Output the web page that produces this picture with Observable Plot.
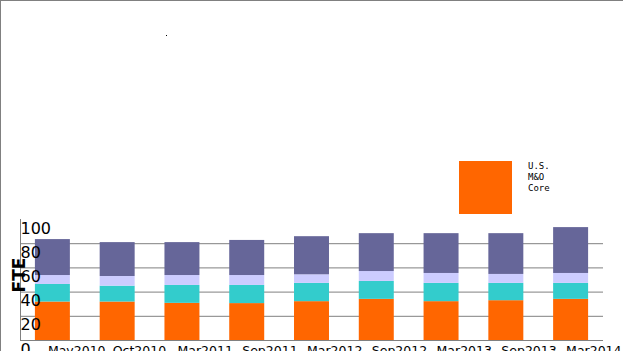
<!DOCTYPE html>
<html><head><meta charset="utf-8">
<script src="https://cdn.jsdelivr.net/npm/d3@7"></script>
<script src="https://cdn.jsdelivr.net/npm/@observablehq/plot@0.6"></script>
<style>
body{margin:0;background:#fff;}
#wrap{position:relative;width:623px;height:351px;overflow:hidden;font-family:"DejaVu Sans";background:#fff;}
#chart svg{position:absolute;left:0;top:0;}
.bt{position:absolute;left:0;top:0;width:623px;height:1px;background:#808080;}
.bl{position:absolute;left:0;top:0;width:1px;height:351px;background:#808080;}
#legend{position:absolute;left:459px;top:161px;}
.sw{position:absolute;left:0;top:0;width:53px;height:53px;background:#ff6600;}
.lt{position:absolute;left:69px;top:0px;font:9px "DejaVu Sans Mono";line-height:11px;white-space:pre;color:#000;}
.dot{position:absolute;left:166px;top:35px;width:1px;height:1px;background:#000;}
</style>
</head><body>
<div id="wrap"><div id="chart"></div>
<div id="legend"><div class="sw"></div><div class="lt" id="legtext"></div></div>
<div class="dot"></div>
<div class="bt"></div><div class="bl"></div></div>
<script>
const periods = ["May2010","Oct2010","Mar2011","Sep2011","Mar2012","Sep2012","Mar2013","Sep2013","Mar2014"];
const seriesNames = ["U.S. M&O Core","U.S. Base","Europe","Other"];
const seriesColors = ["#ff6600","#33cccc","#ccccff","#666699"];
const coreFTE     = [31.8, 31.8, 30.7, 30.5, 32.1, 34.0, 32.1, 32.9, 34.0];
const baseFTE     = [14.5, 13.1, 14.8, 15.0, 15.1, 14.8, 15.1, 14.3, 13.2];
const europeFTE   = [7.4, 8.0, 8.2, 8.2, 7.1, 8.2, 8.2, 7.4, 8.2];
const otherFTE    = [29.7, 28.0, 27.2, 29.0, 31.5, 31.3, 32.9, 33.7, 37.9];
const yTicks = [0, 20, 40, 60, 80, 100];
const gridTicks = [20, 40, 60, 80];
const yLabel = "FTE";

const seriesValues = [coreFTE, baseFTE, europeFTE, otherFTE];
const rows = [];
seriesNames.forEach((s, i) => periods.forEach((p, j) => rows.push({period: p, series: s, value: seriesValues[i][j]})));

const chart = Plot.plot({
  width: 623, height: 351,
  marginLeft: 20, marginRight: 20, marginTop: 219, marginBottom: 11,
  style: {fontFamily: "DejaVu Sans", background: "transparent", overflow: "visible"},
  x: {domain: periods, paddingInner: 0.46, paddingOuter: 0.23, round: false, label: null},
  y: {domain: [0, 100], label: null},
  color: {domain: seriesNames, range: seriesColors},
  marks: [
    Plot.gridY(gridTicks, {stroke: "#808080", strokeOpacity: 1, strokeWidth: 1}),
    Plot.barY(rows, {x: "period", y: "value", fill: "series"}),
    Plot.ruleY([0], {stroke: "#808080"}),
    Plot.frame({anchor: "left", stroke: "#808080"}),
    Plot.axisY(yTicks, {tickSize: 0, textAnchor: "start", dx: 9, dy: 9, fontSize: 16, fill: "#000", label: null}),
    Plot.axisX({tickSize: 0, textAnchor: "start", dx: -5, dy: -3, fontSize: 12.5, fill: "#000", label: null}),
    Plot.text([yLabel], {frameAnchor: "left", text: d => d, rotate: -90, textAnchor: "middle", dx: -1, dy: -5, fontSize: 17, fontWeight: "bold", fill: "#000"})
  ]
});
document.getElementById("chart").appendChild(chart);
document.getElementById("legtext").textContent = "U.S.\nM&O\nCore";
</script>
</body></html>
